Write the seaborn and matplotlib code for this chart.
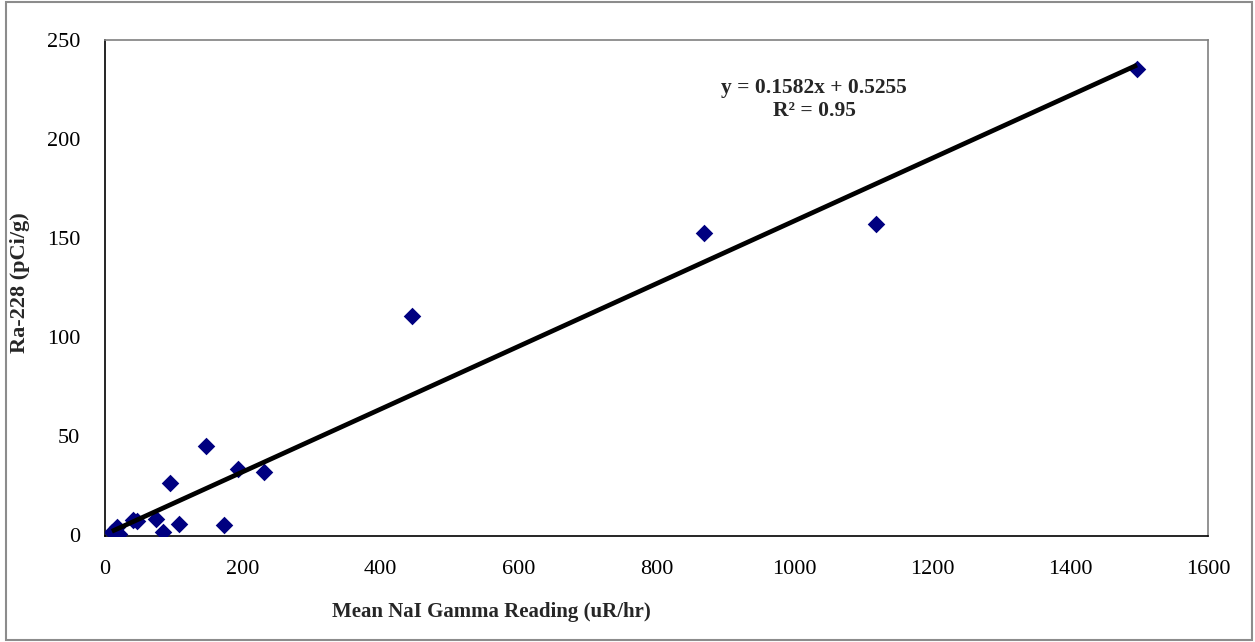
import numpy as np
import pandas as pd
import matplotlib
matplotlib.use("Agg")
import matplotlib.pyplot as plt
from matplotlib.patches import Rectangle
import seaborn as sns

# ---- data ----
gamma_reading = [10, 17, 20, 41, 47, 74, 84, 95, 107, 147, 173, 193, 231, 446, 869, 1118, 1497]
ra228 = [1.9, 4.5, 0.6, 7.8, 7.2, 8.5, 1.6, 26.4, 5.7, 45.2, 5.2, 33.6, 32.1, 110.5, 152.5, 157.3, 235.3]
fit_slope = 0.1582
fit_intercept = 0.5255
fit_r2 = 0.95
x_ticks = [0, 200, 400, 600, 800, 1000, 1200, 1400, 1600]
y_ticks = [0, 50, 100, 150, 200, 250]
x_label = "Mean NaI Gamma Reading (uR/hr)"
y_label = "Ra-228 (pCi/g)"

df = pd.DataFrame({"x": gamma_reading, "y": ra228})

sns.set_style("white")
plt.rcParams["font.family"] = ["Liberation Serif", "DejaVu Serif"]

fig = plt.figure(figsize=(12.55, 6.42), dpi=100)
ax = fig.add_axes([105 / 1255, 1 - 535.5 / 642, 1103 / 1255, 495.5 / 642])

sns.scatterplot(data=df, x="x", y="y", marker="D", color="#000080",
                edgecolor="#000080", linewidth=0, s=80, ax=ax, zorder=3)

xf = np.linspace(min(gamma_reading), max(gamma_reading), 50)
ax.plot(xf, fit_slope * xf + fit_intercept, color="black", lw=3.4, zorder=4,
        solid_capstyle="butt")

ax.set_xlim(x_ticks[0], x_ticks[-1])
ax.set_ylim(y_ticks[0], y_ticks[-1])
ax.set_xticks(x_ticks)
ax.set_yticks(y_ticks)
ax.tick_params(axis="both", direction="out", length=6, width=1, color="#404040",
               labelsize=16, labelcolor="black")
ax.tick_params(axis="y", pad=12)
ax.tick_params(axis="x", pad=12)
ax.grid(False)

for side in ["left", "bottom"]:
    ax.spines[side].set_color("black")
    ax.spines[side].set_linewidth(1.2)
for side in ["top", "right"]:
    ax.spines[side].set_color("#808080")
    ax.spines[side].set_linewidth(1.2)

ax.set_xlabel(x_label, fontsize=15, fontweight="bold")
ax.set_ylabel(y_label, fontsize=16, fontweight="bold")
ax.xaxis.set_label_coords((491 - 105) / 1103, -0.135)
ax.yaxis.set_label_coords((30 - 105) / 1103, 0.51)

ax.text(0.643, 0.904, f"y = {fit_slope:.4f}x + {fit_intercept:.4f}",
        transform=ax.transAxes, ha="center", va="center",
        fontsize=15.5, fontweight="bold")
ax.text(0.643, 0.857, f"R² = {fit_r2:.2f}",
        transform=ax.transAxes, ha="center", va="center",
        fontsize=15.5, fontweight="bold")

fig.patches.append(Rectangle((6 / 1255, 1 - 640 / 642), 1246 / 1255, 638 / 642,
                             transform=fig.transFigure, fill=False,
                             edgecolor="#8c8c8c", lw=1.5))

fig.savefig("out.png", dpi=100)
